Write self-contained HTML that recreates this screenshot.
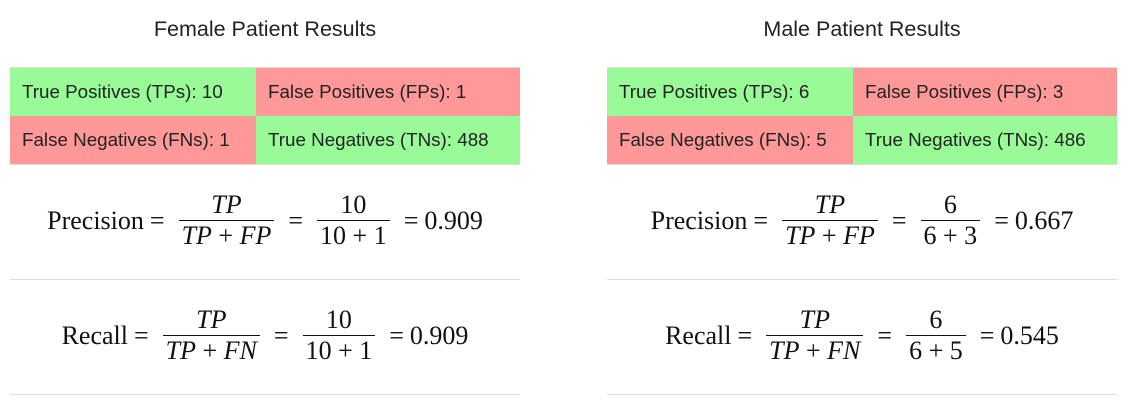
<!DOCTYPE html>
<html><head><meta charset="utf-8"><style>
body{margin:0;width:1128px;height:401px;background:#fff;position:relative;overflow:hidden;font-family:"Liberation Sans",sans-serif;color:#222}
.panel{position:absolute;top:0;width:510px;height:401px}
.title{position:absolute;top:17px;left:0;width:100%;text-align:center;font-size:21.5px}
.grid{position:absolute;top:67px;left:0;width:510px;border-top:1px solid #ddd;border-bottom:1px solid #ddd}
.row{display:flex;height:48px}
.cell{width:246px;display:flex;align-items:center;padding-left:12px;box-sizing:border-box;font-size:18.8px;white-space:nowrap}
.cell.b{width:264px}
.g{background:#98fb98}.r{background:#ff9999}
.eq{position:absolute;left:0;width:100%;display:flex;justify-content:center;align-items:center;font-family:"Liberation Serif",serif;font-size:26px;color:#111;white-space:nowrap}
.frac{display:inline-flex;flex-direction:column;align-items:center;margin:0 8px}
.frac span{padding:0 3px;line-height:30px}
.frac .n{border-bottom:1.5px solid #111;align-self:stretch;text-align:center}
i{font-style:italic}
.op{margin:0 6px}
.sep{position:absolute;left:0;width:510px;border-top:1px solid #ddd}
</style></head><body>
<div class="panel" style="left:10px">
<div class="title">Female Patient Results</div>
<div class="grid">
<div class="row"><div class="cell g">True Positives (TPs): 10</div><div class="cell b r">False Positives (FPs): 1</div></div>
<div class="row"><div class="cell r">False Negatives (FNs): 1</div><div class="cell b g">True Negatives (TNs): 488</div></div>
</div>
<div class="eq" style="top:190px">Precision<span class="op">=</span><span class="frac"><span class="n"><i>TP</i></span><span><i>TP</i> + <i>FP</i></span></span><span class="op">=</span><span class="frac"><span class="n">10</span><span>10 + 1</span></span><span class="op">=</span>0.909</div>
<div class="sep" style="top:279px"></div>
<div class="eq" style="top:305px">Recall<span class="op">=</span><span class="frac"><span class="n"><i>TP</i></span><span><i>TP</i> + <i>FN</i></span></span><span class="op">=</span><span class="frac"><span class="n">10</span><span>10 + 1</span></span><span class="op">=</span>0.909</div>
<div class="sep" style="top:394px"></div>
</div>
<div class="panel" style="left:607px">
<div class="title">Male Patient Results</div>
<div class="grid">
<div class="row"><div class="cell g">True Positives (TPs): 6</div><div class="cell b r">False Positives (FPs): 3</div></div>
<div class="row"><div class="cell r">False Negatives (FNs): 5</div><div class="cell b g">True Negatives (TNs): 486</div></div>
</div>
<div class="eq" style="top:190px">Precision<span class="op">=</span><span class="frac"><span class="n"><i>TP</i></span><span><i>TP</i> + <i>FP</i></span></span><span class="op">=</span><span class="frac"><span class="n">6</span><span>6 + 3</span></span><span class="op">=</span>0.667</div>
<div class="sep" style="top:279px"></div>
<div class="eq" style="top:305px">Recall<span class="op">=</span><span class="frac"><span class="n"><i>TP</i></span><span><i>TP</i> + <i>FN</i></span></span><span class="op">=</span><span class="frac"><span class="n">6</span><span>6 + 5</span></span><span class="op">=</span>0.545</div>
<div class="sep" style="top:394px"></div>
</div>
</body></html>
